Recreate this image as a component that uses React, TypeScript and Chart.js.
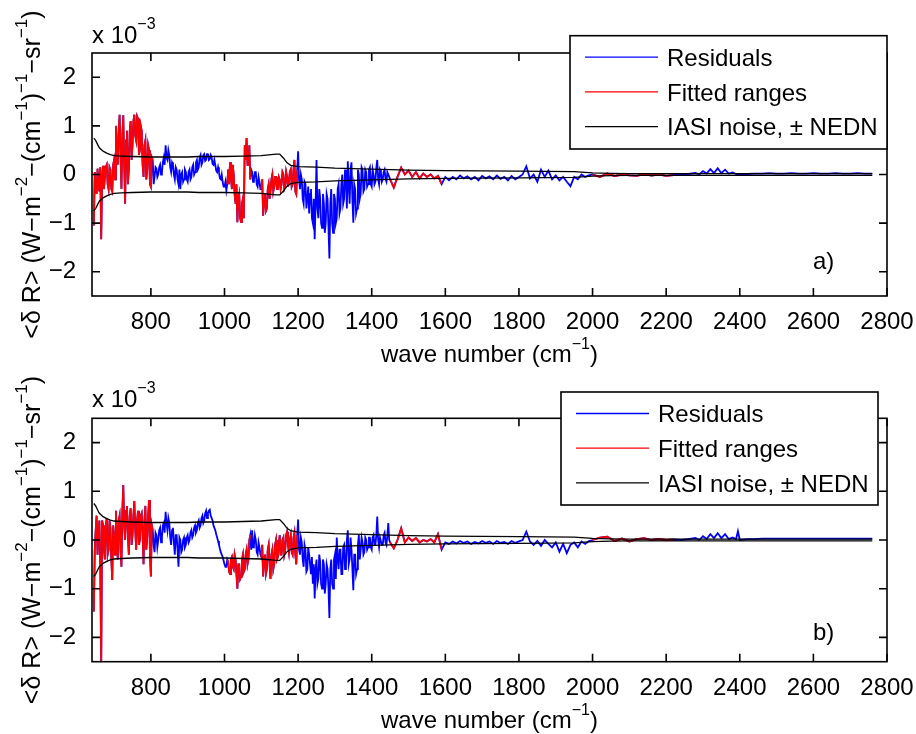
import React, { useEffect, useRef } from 'react';
import { Chart, registerables } from 'chart.js';

Chart.register(...registerables);

const FONT = '"Liberation Sans", Arial, Helvetica, sans-serif';
const FS = 24;
const SUP = 16;

// wave-number grid (cm^-1)
const waveNumbers = [
  645, 650, 655, 660, 665, 670, 675, 680, 685, 690,
  695, 700, 705, 710, 715, 720, 725, 730, 735, 740,
  745, 750, 755, 760, 765, 770, 775, 780, 785, 790,
  795, 800, 805, 810, 815, 820, 825, 830, 835, 840,
  845, 850, 855, 860, 865, 870, 875, 880, 885, 890,
  895, 900, 905, 910, 915, 920, 925, 930, 935, 940,
  945, 950, 955, 960, 965, 970, 975, 980, 985, 990,
  995, 1000, 1005, 1010, 1015, 1020, 1025, 1030, 1035, 1040,
  1045, 1050, 1055, 1060, 1065, 1070, 1075, 1080, 1085, 1090,
  1095, 1100, 1105, 1110, 1115, 1120, 1125, 1130, 1135, 1140,
  1145, 1150, 1155, 1160, 1165, 1170, 1175, 1180, 1185, 1190,
  1195, 1200, 1205, 1210, 1215, 1220, 1225, 1230, 1235, 1240,
  1245, 1250, 1255, 1260, 1265, 1270, 1275, 1280, 1285, 1290,
  1295, 1300, 1305, 1310, 1315, 1320, 1325, 1330, 1335, 1340,
  1345, 1350, 1355, 1360, 1365, 1370, 1375, 1380, 1385, 1390,
  1395, 1400, 1405, 1410, 1415, 1420, 1425, 1430, 1435, 1440,
  1445, 1450,
  1460, 1470, 1480, 1490, 1500, 1510, 1520, 1530, 1540, 1550,
  1560, 1570, 1580, 1590, 1600, 1610, 1620, 1630, 1640, 1650,
  1660, 1670, 1680, 1690, 1700, 1710, 1720, 1730, 1740, 1750,
  1760, 1770, 1780, 1790, 1800, 1810, 1820, 1830, 1840, 1850,
  1860, 1870, 1880, 1890, 1900, 1910, 1920, 1930, 1940, 1950,
  1960, 1970, 1980, 1990, 2000,
  2020, 2040, 2060, 2080, 2100, 2120, 2140, 2160, 2180, 2200,
  2220, 2240, 2260, 2280, 2300, 2320, 2340, 2360, 2380, 2390,
  2395, 2400, 2420, 2440, 2460, 2480, 2500, 2520, 2540, 2560,
  2580, 2600, 2620, 2640, 2660, 2680, 2700, 2720, 2740, 2760,
];

// additional channels between the main grid points (cm^-1)
const waveMid = [
  647.5, 652.5, 657.5, 662.5, 667.5, 672.5, 677.5, 682.5, 687.5, 692.5,
  697.5, 702.5, 707.5, 712.5, 717.5, 722.5, 727.5, 732.5, 737.5, 742.5,
  747.5, 752.5, 757.5, 762.5, 767.5, 772.5, 777.5, 782.5, 787.5, 792.5,
  797.5, 802.5, 807.5, 812.5, 817.5, 822.5, 827.5, 832.5, 837.5, 842.5,
  847.5, 852.5, 857.5, 862.5, 867.5, 872.5, 877.5, 882.5, 887.5, 892.5,
  897.5, 902.5, 907.5, 912.5, 917.5, 922.5, 927.5, 932.5, 937.5, 942.5,
  947.5, 952.5, 957.5, 962.5, 967.5, 972.5, 977.5, 982.5, 987.5, 992.5,
  997.5, 1002.5, 1007.5, 1012.5, 1017.5, 1022.5, 1027.5, 1032.5, 1037.5, 1042.5,
  1047.5, 1052.5, 1057.5, 1062.5, 1067.5, 1072.5, 1077.5, 1082.5, 1087.5, 1092.5,
  1097.5, 1102.5, 1107.5, 1112.5, 1117.5, 1122.5, 1127.5, 1132.5, 1137.5, 1142.5,
  1147.5, 1152.5, 1157.5, 1162.5, 1167.5, 1172.5, 1177.5, 1182.5, 1187.5, 1192.5,
  1197.5, 1202.5, 1207.5, 1212.5, 1217.5, 1222.5, 1227.5, 1232.5, 1237.5, 1242.5,
  1247.5, 1252.5, 1257.5, 1262.5, 1267.5, 1272.5, 1277.5, 1282.5, 1287.5, 1292.5,
  1297.5, 1302.5, 1307.5, 1312.5, 1317.5, 1322.5, 1327.5, 1332.5, 1337.5, 1342.5,
  1347.5, 1352.5, 1357.5, 1362.5, 1367.5, 1372.5, 1377.5, 1382.5, 1387.5, 1392.5,
  1397.5, 1402.5, 1407.5, 1412.5, 1417.5, 1422.5, 1427.5, 1432.5, 1437.5, 1442.5,
  1447.5,
  2290, 2310, 2330, 2350, 2370,
];

// panel a) mean residuals (x 1e-3) on waveNumbers
const residualsA = [
  -1.05, -0.25, 0.12, -0.35, -1.33, 0.18, -0.05, 0.2, -0.3, 0.1,
  -0.35, 0.3, 1.0, 0.2, 1.23, -0.3, 1.22, -0.6, 0.9, 0.1,
  1.1, 0.6, 1.23, 0.7, 1.15, 0.5, 0.9, -0.05, 0.7, 0.1,
  0.5, -0.25, 0.3, -0.05, 0.12, 0.0, 0.2, 0.05, 0.35, 0.6,
  0.3, 0.4, 0.05, 0.2, -0.1, 0.1, -0.2, -0.3, 0.05, -0.1,
  0.05, -0.15, 0.1, -0.05, 0.2, 0.05, 0.3, 0.15, 0.4, 0.25,
  0.42, 0.3, 0.43, 0.32, 0.35, 0.2, 0.2, 0.05, 0.05, -0.1,
  -0.15, -0.25, -0.33, 0.1, 0.25, -0.3, 0.0, -0.6, -0.98, -0.4,
  -0.98, -0.5, 0.6, 0.75, 0.2, -0.1, 0.05, -0.1, 0.05, -0.25,
  -0.15, -0.3, -0.85, -0.4, -0.7, -0.2, -0.35, 0.0, -0.25, -0.05,
  -0.3, -0.1, -0.2, 0.0, -0.25, -0.05, -0.15, 0.1, -0.2, 0.3,
  -0.4, 0.48, -0.3, -0.1, -0.6, -0.2, -0.5, -0.8, -0.3, -1.0,
  -1.33, 0.3, -0.9, -0.5, -1.1, -0.6, -1.0, -0.5, -1.73, -0.3,
  -1.2, -0.5, -0.9, -0.2, -0.7, 0.0, -0.5, -0.1, 0.27, -0.6,
  0.25, -0.99, -0.3, -0.7, 0.0, -0.4, 0.1, -0.3, 0.05, -0.2,
  0.15, -0.25, 0.0, -0.15, 0.3, -0.2, 0.05, -0.1, 0.1, -0.15,
  0.0, -0.1,
  -0.27, -0.05, 0.14, 0.0, 0.08, -0.05, 0.05, -0.08, 0.02, -0.05,
  0.0, -0.08, -0.03, -0.2, -0.05, -0.12, -0.05, -0.1, -0.02, -0.08,
  -0.04, -0.1, -0.05, -0.12, -0.03, -0.08, -0.04, -0.1, -0.02, -0.09,
  -0.05, -0.12, -0.03, -0.1, -0.05, 0.0, 0.17, -0.08, 0.0, -0.15,
  0.1, -0.05, 0.08, -0.1, -0.02, -0.12, -0.05, -0.15, -0.24, -0.05,
  -0.1, 0.0, -0.05, -0.02, 0.0,
  -0.05, 0.02, -0.03, 0.0, -0.02, -0.03, 0.01, -0.02, 0.0, -0.03,
  -0.01, 0.0, 0.01, 0.03, 0.07, 0.11, 0.13, 0.1, 0.04, 0.01,
  0.0, 0.0, 0.01, 0.02, 0.02, 0.03, 0.02, 0.02, 0.03, 0.02,
  0.02, 0.03, 0.02, 0.02, 0.03, 0.02, 0.02, 0.03, 0.02, 0.02,
];

// panel a) mean residuals (x 1e-3) on waveMid
const residualsAMid = [
  0.05, -0.4, -0.2, 0.15, -0.1, -0.3, 0.15, -0.2, 0.15, -0.3,
  0.2, -0.1, 0.5, 0.9, 0.4, 0.8, 0.2, 0.7, -0.2, 0.9,
  0.3, 1.1, 0.8, 1.2, 0.4, 1.0, 0.2, 0.6, -0.1, 0.6,
  -0.2, 0.35, -0.2, 0.15, -0.05, 0.15, 0.0, 0.25, 0.2, 0.35,
  0.5, 0.15, 0.25, 0.0, 0.15, -0.1, 0.1, 0.0, -0.15, 0.1,
  -0.1, 0.05, -0.1, 0.15, 0.0, 0.25, 0.1, 0.35, 0.2, 0.4,
  0.28, 0.42, 0.3, 0.4, 0.22, 0.3, 0.08, 0.15, -0.08, 0.0,
  -0.25, -0.15, -0.2, -0.2, 0.0, 0.2, -0.4, -0.2, -0.5, -0.9,
  -0.6, -0.9, 0.3, 0.2, 0.6, 0.1, -0.15, 0.05, -0.2, -0.05,
  -0.3, -0.1, -0.5, -0.75, -0.3, -0.5, -0.1, -0.35, -0.05, -0.3,
  -0.05, -0.3, 0.05, -0.3, 0.05, -0.25, 0.05, -0.25, 0.1, -0.35,
  0.1, -0.1, 0.0, -0.5, -0.15, -0.7, -0.25, -0.4, -0.9, -0.5,
  -0.6, -0.7, -0.3, -1.0, -0.4, -1.2, -0.4, -1.1, -0.6, -1.0,
  -0.4, -1.0, -0.3, -0.8, -0.2, -0.6, 0.1, -0.7, -0.2, 0.1,
  -0.5, -0.2, -0.8, 0.1, -0.5, 0.15, -0.35, 0.1, -0.25, 0.1,
  -0.2, 0.1, -0.2, 0.15, -0.1, 0.1, -0.15, 0.05, -0.1, 0.05,
  -0.05,
  0.0, 0.02, 0.03, 0.03, 0.02,
];

// panel b) mean residuals (x 1e-3) on waveNumbers
const residualsB = [
  -1.47, 0.2, -0.3, 0.4, -2.6, 0.3, -0.4, 0.45, -0.2, 0.25,
  -0.82, 0.1, 0.6, -0.4, 0.5, -0.55, 1.13, 0.0, 0.7, -0.3,
  0.65, 0.1, 0.8, -0.2, 0.6, 0.0, 0.55, -0.5, 0.7, 0.05,
  0.82, -0.75, 0.2, -0.25, 0.1, 0.0, 0.25, 0.05, 0.35, 0.58,
  0.2, 0.35, -0.1, 0.25, -0.3, 0.1, -0.55, 0.0, -0.2, 0.05,
  -0.1, 0.1, 0.0, 0.2, 0.1, 0.3, 0.2, 0.4, 0.3, 0.5,
  0.4, 0.6, 0.55, 0.62, 0.45, 0.3, 0.2, 0.05, -0.1, -0.25,
  -0.35, -0.5, -0.55, -0.45, -0.7, -0.35, -0.6, -0.4, -1.0, -0.5,
  -0.75, -0.3, -0.6, -0.2, -0.4, 0.1, 0.2, -0.1, 0.0, -0.3,
  -0.15, -0.35, -0.75, -0.3, -0.6, -0.1, -0.8, -0.2, -0.5, 0.0,
  -0.35, 0.1, -0.3, 0.05, -0.2, 0.17, -0.25, 0.1, -0.3, 0.15,
  -0.5, 0.42, -0.3, -0.05, -0.55, -0.2, -0.6, -0.3, -0.7, -0.9,
  -1.2, -0.4, -0.8, -0.45, -1.0, -0.5, -0.9, -0.6, -1.6, -0.4,
  -1.0, -0.3, 0.05, -0.6, -0.2, -0.7, -0.1, -0.5, 0.2, -0.4,
  -0.2, -1.03, -0.3, -0.6, 0.1, -0.2, -0.05, -0.25, 0.0, -0.15,
  0.05, -0.2, 0.1, -0.1, 0.48, -0.15, 0.05, -0.1, 0.15, -0.1,
  0.35, -0.05,
  -0.17, 0.0, 0.24, -0.05, 0.05, -0.02, 0.04, -0.05, 0.0, -0.03,
  0.02, -0.05, 0.12, -0.2, -0.05, -0.08, -0.03, -0.07, -0.02, -0.06,
  -0.03, -0.08, -0.04, -0.07, -0.02, -0.06, -0.03, -0.08, -0.02, -0.06,
  -0.04, -0.08, -0.02, -0.06, -0.03, 0.0, 0.17, -0.03, -0.1, -0.02,
  -0.12, 0.0, -0.08, -0.15, -0.05, -0.24, -0.08, -0.27, -0.1, -0.05,
  -0.15, -0.03, -0.08, -0.02, 0.0,
  0.05, 0.07, -0.02, 0.03, -0.03, 0.02, 0.04, 0.0, 0.02, 0.0,
  0.01, 0.0, 0.02, 0.04, 0.08, 0.12, 0.14, 0.12, 0.05, 0.02,
  0.18, 0.0, 0.02, 0.02, 0.03, 0.03, 0.03, 0.03, 0.03, 0.03,
  0.03, 0.03, 0.03, 0.03, 0.03, 0.03, 0.03, 0.03, 0.03, 0.03,
];

// panel b) mean residuals (x 1e-3) on waveMid
const residualsBMid = [
  -0.2, 0.5, 0.1, -0.5, 0.4, -0.2, 0.3, -0.3, 0.4, -0.4,
  0.3, -0.3, 0.1, 0.4, -0.2, 0.6, 0.3, 0.6, 0.1, 0.5,
  -0.1, 0.5, 0.2, 0.4, -0.1, 0.5, 0.1, 0.4, -0.2, 0.5,
  -0.3, 0.3, -0.1, 0.15, -0.15, 0.2, -0.05, 0.3, 0.15, 0.35,
  0.45, 0.05, 0.2, -0.05, 0.1, -0.2, 0.05, -0.25, 0.0, -0.15,
  0.05, -0.05, 0.15, 0.05, 0.25, 0.15, 0.35, 0.25, 0.45, 0.35,
  0.55, 0.45, 0.6, 0.5, 0.4, 0.25, 0.12, -0.02, -0.18, -0.3,
  -0.42, -0.55, -0.4, -0.65, -0.4, -0.55, -0.3, -0.7, -0.5, -0.8,
  -0.4, -0.65, -0.3, -0.5, 0.0, -0.2, -0.15, 0.1, -0.25, -0.05,
  -0.3, -0.1, -0.35, -0.7, -0.2, -0.5, -0.3, -0.6, -0.1, -0.4,
  -0.1, -0.3, 0.0, -0.3, 0.1, -0.1, 0.0, -0.25, 0.05, -0.3,
  0.1, -0.2, 0.05, -0.4, -0.1, -0.65, -0.15, -0.5, -0.35, -0.5,
  -0.6, -0.9, -0.3, -0.9, -0.4, -1.1, -0.5, -1.0, -0.6, -0.9,
  -0.4, -0.8, -0.4, -0.2, -0.7, -0.15, -0.6, 0.0, -0.5, 0.05,
  -0.6, -0.3, -0.7, -0.1, -0.4, 0.05, -0.3, 0.05, -0.2, 0.05,
  -0.15, 0.05, -0.1, 0.1, 0.0, 0.05, -0.1, 0.1, -0.05, 0.1,
  0.0,
  0.0, 0.02, 0.04, 0.04, 0.02,
];

// spectral windows used in the fit (cm^-1)
const fittedRanges = [
  [645, 806],
  [1006, 1072],
  [1100, 1198],
  [1450, 1595],
  [2000, 2230],
];

// IASI noise (NEDN, x 1e-3)
const nednWave = [
  645, 650, 655, 660, 670, 680, 690, 700, 720, 750, 800, 850, 900, 930, 960,
  1000, 1050, 1100, 1140, 1150, 1160, 1170, 1180, 1200, 1250, 1300, 1400,
  1500, 1600, 1800, 1950, 2000, 2050, 2100, 2400, 2760,
];
const nednValue = [
  0.75, 0.7, 0.62, 0.55, 0.48, 0.44, 0.41, 0.39, 0.38, 0.37, 0.36, 0.36, 0.36, 0.37, 0.37,
  0.37, 0.38, 0.39, 0.42, 0.42, 0.34, 0.24, 0.19, 0.16, 0.15, 0.13, 0.11,
  0.09, 0.08, 0.07, 0.06, 0.035, 0.025, 0.02, 0.02, 0.02,
];

const xTicks = [800, 1000, 1200, 1400, 1600, 1800, 2000, 2200, 2400, 2600, 2800];
const yTicks = [-2, -1, 0, 1, 2];

const legendLabels = ['Residuals', 'Fitted ranges', 'IASI noise, \u00B1 NEDN'];
const legendColors = ['#0000ff', '#ff0000', '#000000'];

type Seg = { t: string; sup?: boolean };
const xTitleSegs: Seg[] = [{ t: 'wave number (cm' }, { t: '\u22121', sup: true }, { t: ')' }];
const yTitleSegs: Seg[] = [
  { t: '<\u03B4 R> (W\u2212m' },
  { t: '\u22122', sup: true },
  { t: '\u2212(cm' },
  { t: '\u22121', sup: true },
  { t: ')' },
  { t: '\u22121', sup: true },
  { t: '\u2212sr' },
  { t: '\u22121', sup: true },
  { t: ')' },
];
const expSegs: Seg[] = [{ t: 'x 10' }, { t: '\u22123', sup: true }];

function drawRich(ctx: CanvasRenderingContext2D, segs: Seg[], x: number, y: number, align: string, raise: number, size: number) {
  const sup = Math.round(size * SUP / FS);
  const widths = segs.map((s) => {
    ctx.font = `${s.sup ? sup : size}px ${FONT}`;
    return ctx.measureText(s.t).width;
  });
  const total = widths.reduce((a, b) => a + b, 0);
  let cx = align === 'center' ? x - total / 2 : x;
  ctx.textAlign = 'left';
  ctx.textBaseline = 'alphabetic';
  segs.forEach((s, i) => {
    ctx.font = `${s.sup ? sup : size}px ${FONT}`;
    ctx.fillText(s.t, cx, s.sup ? y - raise : y);
    cx += widths[i];
  });
}

const decorPlugin = {
  id: 'decor',
  afterDraw(chart: any, _args: any, opts: any) {
    const { ctx, chartArea: ca, scales } = chart;
    const xs = scales.x;
    const ys = scales.y;
    ctx.save();
    ctx.strokeStyle = '#000';
    ctx.lineWidth = 1.6;
    ctx.strokeRect(ca.left, ca.top, ca.right - ca.left, ca.bottom - ca.top);
    const TL = 8;
    ctx.beginPath();
    xTicks.forEach((v) => {
      const px = xs.getPixelForValue(v);
      ctx.moveTo(px, ca.bottom);
      ctx.lineTo(px, ca.bottom - TL);
      ctx.moveTo(px, ca.top);
      ctx.lineTo(px, ca.top + TL);
    });
    yTicks.forEach((v) => {
      const py = ys.getPixelForValue(v);
      ctx.moveTo(ca.left, py);
      ctx.lineTo(ca.left + TL, py);
      ctx.moveTo(ca.right, py);
      ctx.lineTo(ca.right - TL, py);
    });
    ctx.stroke();

    ctx.fillStyle = '#000';
    drawRich(ctx, expSegs, ca.left, opts.expBaseline, 'left', 14, FS);
    drawRich(ctx, xTitleSegs, (ca.left + ca.right) / 2, opts.xTitleBaseline, 'center', 13, FS);
    ctx.save();
    ctx.translate(opts.yTitleX, (ca.top + ca.bottom) / 2);
    ctx.rotate(-Math.PI / 2);
    drawRich(ctx, yTitleSegs, 0, 0, 'center', 13, 25);
    ctx.restore();

    ctx.font = `${FS}px ${FONT}`;
    ctx.textAlign = 'left';
    ctx.textBaseline = 'alphabetic';
    ctx.fillText(opts.panelLabel, opts.labelX, opts.labelY);

    const L = opts.legend;
    ctx.fillStyle = '#fff';
    ctx.fillRect(L.x, L.y, L.w, L.h);
    ctx.strokeStyle = '#000';
    ctx.lineWidth = 1.6;
    ctx.strokeRect(L.x, L.y, L.w, L.h);
    legendLabels.forEach((lab, i) => {
      const ly = L.y + 21.5 + i * 34.7;
      ctx.strokeStyle = legendColors[i];
      ctx.lineWidth = 1.3;
      ctx.beginPath();
      ctx.moveTo(L.x + 15, ly);
      ctx.lineTo(L.x + 88, ly);
      ctx.stroke();
      ctx.fillStyle = '#000';
      ctx.font = `${FS}px ${FONT}`;
      ctx.fillText(lab, L.x + 97, ly + 8.6);
    });
    ctx.restore();
  },
};

const inFitted = (w: number) => fittedRanges.some(([a, b]) => w >= a && w <= b);

type PanelCfg = {
  top: number;
  bottom: number;
  canvasTop: number;
  expBaseline: number;
  xTitleBaseline: number;
  yTitleX: number;
  panelLabel: string;
  labelX: number;
  labelY: number;
  legend: { x: number; y: number; w: number; h: number };
};

const CW = 916;
const CH = 367;

function Panel({ residuals, residualsMid, cfg }: { residuals: number[]; residualsMid: number[]; cfg: PanelCfg }) {
  const ref = useRef<HTMLCanvasElement>(null);
  useEffect(() => {
    if (!ref.current) return;
    const merged = [
      ...waveNumbers.map((w, i) => ({ x: w, y: residuals[i] })),
      ...waveMid.map((w, i) => ({ x: w, y: residualsMid[i] })),
    ].sort((a, b) => a.x - b.x);
    const fitted = merged.map((p) => ({ x: p.x, y: inFitted(p.x) ? p.y : null }));
    const up = nednWave.map((w, i) => ({ x: w, y: nednValue[i] }));
    const dn = nednWave.map((w, i) => ({ x: w, y: -nednValue[i] }));
    const chart = new Chart(ref.current, {
      type: 'line',
      data: {
        datasets: [
          { label: 'IASI noise +', data: up, borderColor: '#000', borderWidth: 1.3, pointRadius: 0, order: 0 },
          { label: 'IASI noise -', data: dn, borderColor: '#000', borderWidth: 1.3, pointRadius: 0, order: 0 },
          { label: 'Fitted ranges', data: fitted as any, borderColor: '#ff0000', borderWidth: 1.8, pointRadius: 0, spanGaps: false, order: 1 },
          { label: 'Residuals', data: merged, borderColor: '#0000ff', borderWidth: 1.8, pointRadius: 0, order: 2 },
        ],
      },
      options: {
        responsive: false,
        animation: false,
        events: [],
        layout: { padding: { left: 0, top: cfg.top, right: CW - 887, bottom: 0 } },
        plugins: {
          legend: { display: false },
          tooltip: { enabled: false },
          decor: cfg,
        } as any,
        scales: {
          x: {
            type: 'linear',
            min: 640,
            max: 2800,
            grid: { display: false },
            border: { display: false },
            ticks: {
              color: '#000',
              font: { family: FONT, size: FS },
              padding: 4,
              maxRotation: 0,
              autoSkip: false,
              callback: (v: any) => String(v),
            },
            afterBuildTicks: (s: any) => {
              s.ticks = xTicks.map((v) => ({ value: v }));
            },
            afterFit: (s: any) => {
              s.height = CH - cfg.bottom;
              s.paddingLeft = 0;
              s.paddingRight = 0;
            },
          },
          y: {
            type: 'linear',
            min: -2.5,
            max: 2.5,
            grid: { display: false },
            border: { display: false },
            ticks: {
              color: '#000',
              font: { family: FONT, size: FS },
              padding: 8,
              autoSkip: false,
              callback: (v: any) => (v < 0 ? '\u2212' + Math.abs(v) : String(v)),
            },
            afterBuildTicks: (s: any) => {
              s.ticks = yTicks.map((v) => ({ value: v }));
            },
            afterFit: (s: any) => {
              s.width = 92;
              s.paddingTop = 0;
              s.paddingBottom = 0;
            },
          },
        },
      } as any,
      plugins: [decorPlugin as any],
    });
    return () => chart.destroy();
  }, []);
  return (
    <canvas
      ref={ref}
      width={CW}
      height={CH}
      style={{ position: 'absolute', left: 0, top: cfg.canvasTop, width: CW, height: CH, display: 'block' }}
    />
  );
}

const cfgA: PanelCfg = {
  top: 53,
  bottom: 296,
  canvasTop: 0,
  expBaseline: 43,
  xTitleBaseline: 362,
  yTitleX: 40,
  panelLabel: 'a)',
  labelX: 813,
  labelY: 269,
  legend: { x: 570, y: 35.7, w: 317, h: 113.3 },
};

const cfgB: PanelCfg = {
  top: 51.3,
  bottom: 294.7,
  canvasTop: 367,
  expBaseline: 40,
  xTitleBaseline: 361,
  yTitleX: 40,
  panelLabel: 'b)',
  labelX: 813,
  labelY: 272.5,
  legend: { x: 561, y: 25, w: 317, h: 113 },
};

export default function App() {
  return (
    <div style={{ position: 'fixed', left: 0, top: 0, width: CW, height: 2 * CH, overflow: 'hidden', background: '#fff' }}>
      <Panel residuals={residualsA} residualsMid={residualsAMid} cfg={cfgA} />
      <Panel residuals={residualsB} residualsMid={residualsBMid} cfg={cfgB} />
    </div>
  );
}
